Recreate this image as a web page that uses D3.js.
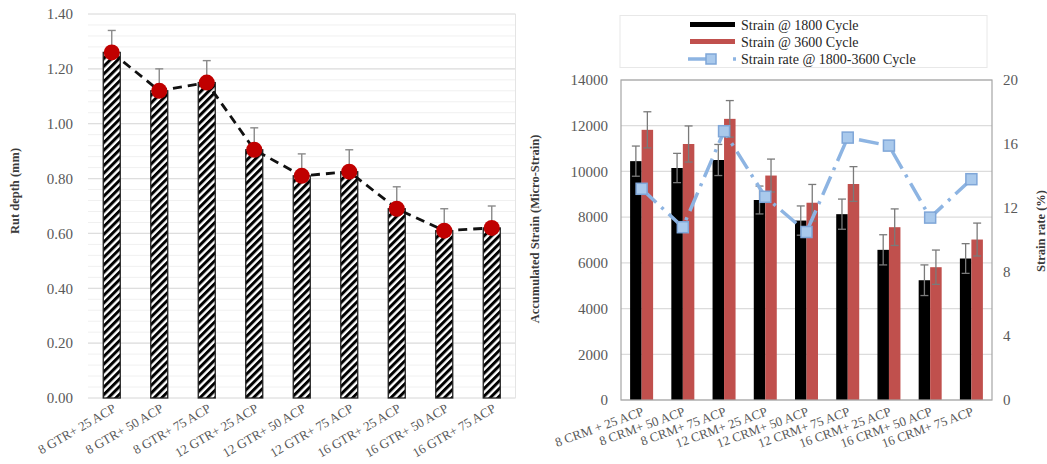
<!DOCTYPE html>
<html>
<head>
<meta charset="utf-8">
<script src="https://cdn.jsdelivr.net/npm/d3@7"></script>
<style>
  html, body { margin: 0; padding: 0; background: #fff; }
  svg { display: block; }
  text { font-family: "Liberation Serif", "Times New Roman", serif; }
</style>
</head>
<body>
<svg id="chart" width="1047" height="464"></svg>
<script>
// ---- Rut depth (left panel) ----
const gtrCategories = ["8 GTR+ 25 ACP", "8 GTR+ 50 ACP", "8 GTR+ 75 ACP",
  "12 GTR+ 25 ACP", "12 GTR+ 50 ACP", "12 GTR+ 75 ACP",
  "16 GTR+ 25 ACP", "16 GTR+ 50 ACP", "16 GTR+ 75 ACP"];
const rutDepth = [1.26, 1.12, 1.15, 0.905, 0.81, 0.825, 0.69, 0.61, 0.62];
const rutError = [0.08, 0.08, 0.08, 0.08, 0.08, 0.08, 0.08, 0.08, 0.08];
const rutTicks = [0, 0.2, 0.4, 0.6, 0.8, 1.0, 1.2, 1.4];

// ---- Accumulated strain (right panel) ----
const crmCategories = ["8 CRM + 25 ACP", "8 CRM+ 50 ACP", "8 CRM+ 75 ACP",
  "12 CRM+ 25 ACP", "12 CRM+ 50 ACP", "12 CRM+ 75 ACP",
  "16 CRM+ 25 ACP", "16 CRM+ 50 ACP", "16 CRM+ 75 ACP"];
const strain1800 = [10450, 10150, 10500, 8750, 7850, 8130, 6570, 5240, 6190];
const strain1800Err = [660, 640, 680, 610, 640, 660, 660, 670, 650];
const strain3600 = [11820, 11200, 12300, 9820, 8630, 9450, 7560, 5810, 7020];
const strain3600Err = [790, 790, 800, 720, 800, 760, 800, 750, 720];
const strainRate = [13.2, 10.8, 16.8, 12.7, 10.5, 16.4, 15.9, 11.4, 13.8];
const strainTicks = [0, 2000, 4000, 6000, 8000, 10000, 12000, 14000];
const rateTicks = [0, 4, 8, 12, 16, 20];
const legendLabels = ["Strain @ 1800 Cycle", "Strain @ 3600 Cycle", "Strain rate @ 1800-3600 Cycle"];

const svg = d3.select("#chart");
const tickColor = "#595959";
const titleColor = "#3a3a3a";

// hatch fill for the rut-depth bars
const defs = svg.append("defs");
const hatch = defs.append("pattern")
  .attr("id", "hatch")
  .attr("patternUnits", "userSpaceOnUse")
  .attr("width", 5.4).attr("height", 5.4)
  .attr("patternTransform", "rotate(45)");
hatch.append("rect").attr("width", 5.4).attr("height", 5.4).attr("fill", "#fff");
hatch.append("line").attr("x1", 1.5).attr("y1", 0).attr("x2", 1.5).attr("y2", 5.4)
  .attr("stroke", "#000").attr("stroke-width", 3);

// ================= Left panel =================
{
  const x = d3.scaleBand().domain(gtrCategories).range([88, 515.5]);
  const y = d3.scaleLinear().domain([0, 1.4]).range([398, 14]);
  const g = svg.append("g");

  // minor and major gridlines
  const minor = d3.range(0, 1.4001, 0.04);
  g.selectAll("line.minor").data(minor).join("line")
    .attr("x1", 88).attr("x2", 515.5)
    .attr("y1", d => y(d)).attr("y2", d => y(d))
    .attr("stroke", "#f0f0f0").attr("stroke-width", 1);
  g.selectAll("line.major").data(rutTicks).join("line")
    .attr("x1", 88).attr("x2", 515.5)
    .attr("y1", d => y(d)).attr("y2", d => y(d))
    .attr("stroke", "#dedede").attr("stroke-width", 1.2);
  g.append("line").attr("x1", 515.5).attr("x2", 515.5).attr("y1", y(1.4)).attr("y2", y(0))
    .attr("stroke", "#e4e4e4");

  // y axis labels
  const yAxis = d3.axisLeft(y).tickValues(rutTicks).tickFormat(d3.format(".2f")).tickSize(0).tickPadding(0);
  const ya = g.append("g").attr("transform", "translate(73,0)").call(yAxis);
  ya.select(".domain").remove();
  ya.selectAll("text").attr("fill", tickColor).style("font-size", "15px")
    .style("font-family", "'Liberation Serif', serif");

  // bars
  const bw = 17;
  g.selectAll("rect.bar").data(rutDepth).join("rect")
    .attr("x", (d, i) => x(gtrCategories[i]) + x.bandwidth() / 2 - bw / 2)
    .attr("width", bw)
    .attr("y", d => y(d))
    .attr("height", d => y(0) - y(d))
    .attr("fill", "url(#hatch)")
    .attr("stroke", "#222").attr("stroke-width", 1.3);

  // error bars (upper)
  rutDepth.forEach((d, i) => {
    const cx = x(gtrCategories[i]) + x.bandwidth() / 2;
    const top = y(d + rutError[i]);
    g.append("line").attr("x1", cx).attr("x2", cx).attr("y1", y(d)).attr("y2", top)
      .attr("stroke", "#8a8a8a").attr("stroke-width", 1.4);
    g.append("line").attr("x1", cx - 4).attr("x2", cx + 4).attr("y1", top).attr("y2", top)
      .attr("stroke", "#8a8a8a").attr("stroke-width", 1.4);
  });

  // dashed trend line and markers
  const line = d3.line()
    .x((d, i) => x(gtrCategories[i]) + x.bandwidth() / 2)
    .y(d => y(d));
  g.append("path").datum(rutDepth).attr("d", line)
    .attr("fill", "none").attr("stroke", "#111").attr("stroke-width", 2.8)
    .attr("stroke-dasharray", "9,6");
  g.selectAll("circle.pt").data(rutDepth).join("circle")
    .attr("cx", (d, i) => x(gtrCategories[i]) + x.bandwidth() / 2)
    .attr("cy", d => y(d))
    .attr("r", 8)
    .attr("fill", "#c00000");

  // x labels
  g.selectAll("text.xl").data(gtrCategories).join("text")
    .attr("transform", d => `translate(${x(d) + x.bandwidth() / 2 + 5},${411}) rotate(-30)`)
    .attr("text-anchor", "end")
    .attr("fill", tickColor)
    .style("font-size", "13px")
    .text(d => d);

  // axis title
  g.append("text")
    .attr("transform", "translate(19,191) rotate(-90)")
    .attr("text-anchor", "middle")
    .attr("fill", titleColor)
    .style("font-size", "12.5px").style("font-weight", "bold")
    .text("Rut depth (mm)");
}

// ================= Right panel =================
{
  const x0 = 621, x1 = 992, yTop = 80, yBot = 400;
  const x = d3.scaleBand().domain(crmCategories).range([x0, x1]);
  const y = d3.scaleLinear().domain([0, 14000]).range([yBot, yTop]);
  const yR = d3.scaleLinear().domain([0, 20]).range([yBot, yTop]);
  const g = svg.append("g");

  // gridlines
  g.selectAll("line.grid").data(strainTicks).join("line")
    .attr("x1", x0).attr("x2", x1)
    .attr("y1", d => y(d)).attr("y2", d => y(d))
    .attr("stroke", "#dcdcdc").attr("stroke-width", 1.2);

  // left axis labels
  const yl = g.append("g").attr("transform", "translate(608,0)")
    .call(d3.axisLeft(y).tickValues(strainTicks).tickFormat(d3.format("d")).tickSize(0).tickPadding(0));
  yl.select(".domain").remove();
  yl.selectAll("text").attr("fill", tickColor).style("font-size", "15px")
    .style("font-family", "'Liberation Serif', serif");

  // right axis labels
  const yr = g.append("g").attr("transform", "translate(1003,0)")
    .call(d3.axisRight(yR).tickValues(rateTicks).tickFormat(d3.format("d")).tickSize(0).tickPadding(0));
  yr.select(".domain").remove();
  yr.selectAll("text").attr("fill", tickColor).style("font-size", "15px")
    .style("font-family", "'Liberation Serif', serif");

  // grouped bars
  const bw = 11.5;
  const cx = i => x(crmCategories[i]) + x.bandwidth() / 2;
  g.selectAll("rect.b1").data(strain1800).join("rect")
    .attr("x", (d, i) => cx(i) - bw).attr("width", bw)
    .attr("y", d => y(d)).attr("height", d => yBot - y(d))
    .attr("fill", "#000");
  g.selectAll("rect.b2").data(strain3600).join("rect")
    .attr("x", (d, i) => cx(i)).attr("width", bw)
    .attr("y", d => y(d)).attr("height", d => yBot - y(d))
    .attr("fill", "#c0504d");

  // error bars
  function errBar(xc, v, e) {
    const t = y(v + e), b = y(v - e);
    g.append("line").attr("x1", xc).attr("x2", xc).attr("y1", t).attr("y2", b)
      .attr("stroke", "#7a7a7a").attr("stroke-width", 1.3);
    [t, b].forEach(yy => g.append("line").attr("x1", xc - 4).attr("x2", xc + 4)
      .attr("y1", yy).attr("y2", yy).attr("stroke", "#7a7a7a").attr("stroke-width", 1.3));
  }
  strain1800.forEach((v, i) => errBar(cx(i) - bw / 2, v, strain1800Err[i]));
  strain3600.forEach((v, i) => errBar(cx(i) + bw / 2, v, strain3600Err[i]));

  // plot border
  g.append("rect").attr("x", x0).attr("y", yTop).attr("width", x1 - x0).attr("height", yBot - yTop)
    .attr("fill", "none").attr("stroke", "#a6a6a6").attr("stroke-width", 1.2);

  // strain rate line (secondary axis)
  const blue = "#8db4e2";
  const rateLine = d3.line().x((d, i) => cx(i)).y(d => yR(d));
  g.append("path").datum(strainRate).attr("d", rateLine)
    .attr("fill", "none").attr("stroke", blue).attr("stroke-width", 3.5)
    .attr("stroke-dasharray", "20,7,3,7");
  g.selectAll("rect.mk").data(strainRate).join("rect")
    .attr("x", (d, i) => cx(i) - 5.5).attr("y", d => yR(d) - 5.5)
    .attr("width", 11).attr("height", 11)
    .attr("fill", "#a9c9ec").attr("stroke", "#7fa6d8").attr("stroke-width", 1.5);

  // x labels
  g.selectAll("text.xl").data(crmCategories).join("text")
    .attr("transform", (d, i) => `translate(${cx(i) + 3},${415}) rotate(-20)`)
    .attr("text-anchor", "end")
    .attr("fill", tickColor)
    .style("font-size", "13px")
    .text(d => d);

  // axis titles
  g.append("text")
    .attr("transform", "translate(539,229) rotate(-90)")
    .attr("text-anchor", "middle").attr("fill", titleColor)
    .style("font-size", "12.5px").style("font-weight", "bold")
    .text("Accumulated Strain (Micro-Strain)");
  g.append("text")
    .attr("transform", "translate(1045,231) rotate(-90)")
    .attr("text-anchor", "middle").attr("fill", titleColor)
    .style("font-size", "12.5px").style("font-weight", "bold")
    .text("Strain rate (%)");

  // legend
  const lg = svg.append("g");
  lg.append("rect").attr("x", 620).attr("y", 15.5).attr("width", 367).attr("height", 52)
    .attr("fill", "#fff").attr("stroke", "#e8e8e8");
  const rows = [30, 47, 64];
  lg.append("rect").attr("x", 690).attr("y", rows[0] - 8).attr("width", 45).attr("height", 5).attr("fill", "#000");
  lg.append("rect").attr("x", 690).attr("y", rows[1] - 8).attr("width", 45).attr("height", 5).attr("fill", "#c0504d");
  lg.append("line").attr("x1", 688).attr("x2", 736).attr("y1", rows[2] - 5).attr("y2", rows[2] - 5)
    .attr("stroke", blue).attr("stroke-width", 3.5).attr("stroke-dasharray", "20,25,3,20");
  lg.append("rect").attr("x", 706).attr("y", rows[2] - 10).attr("width", 10).attr("height", 10)
    .attr("fill", "#a9c9ec").attr("stroke", "#7fa6d8").attr("stroke-width", 1.5);
  lg.selectAll("text.lt").data(legendLabels).join("text")
    .attr("x", 741).attr("y", (d, i) => rows[i])
    .attr("fill", "#262626").style("font-size", "14px")
    .text(d => d);
}
</script>
</body>
</html>
